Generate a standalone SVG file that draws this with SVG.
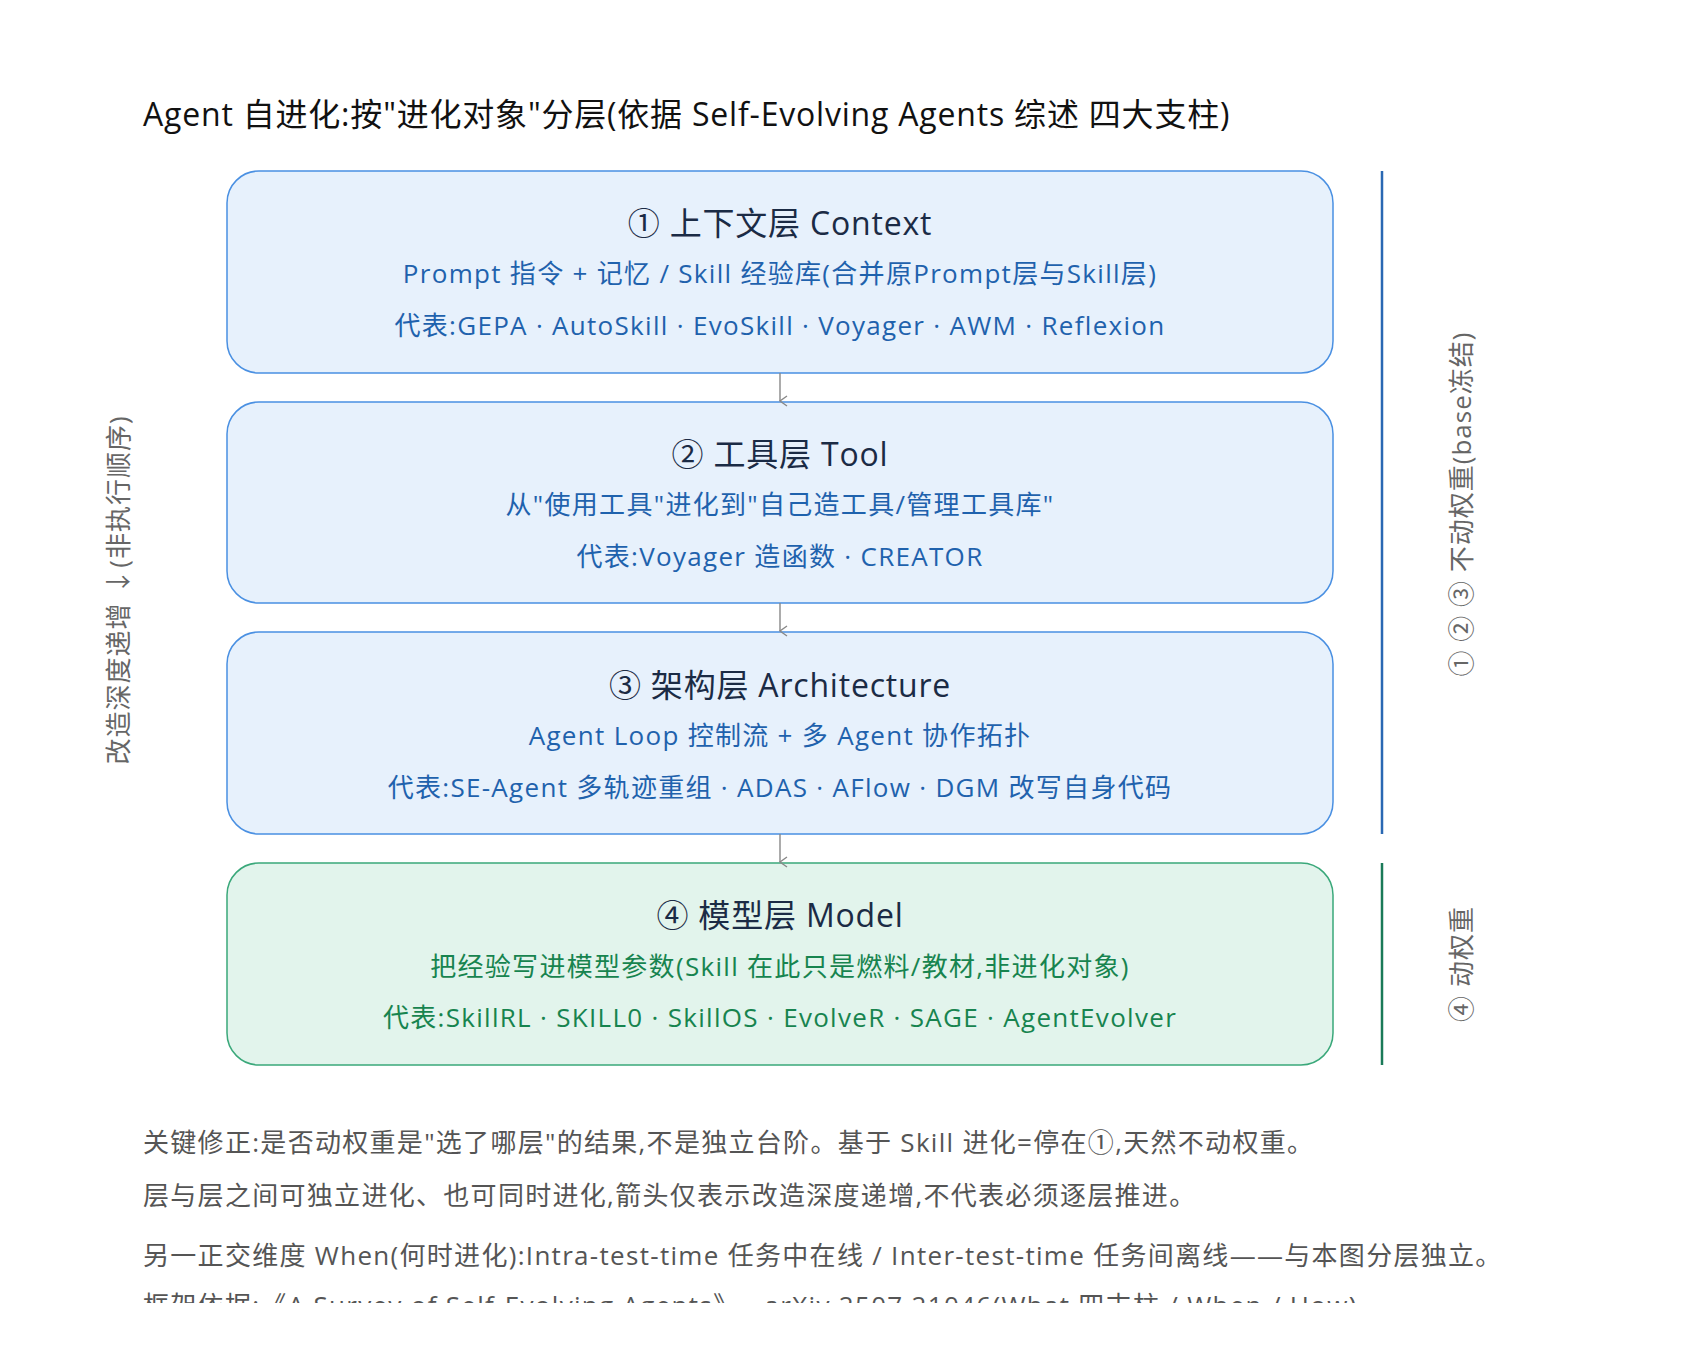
<svg xmlns="http://www.w3.org/2000/svg" width="1696" height="1356" viewBox="0 0 1696 1356">
<style>
text{font-family:"Open Sans","Noto Sans CJK SC",sans-serif}
.b{fill:#e7f1fc;stroke:#4a90e2;stroke-width:1.5}
.g{fill:#e2f4ec;stroke:#3aa87a;stroke-width:1.5}
.t{font-size:32px;fill:#1b2b45;text-anchor:middle;letter-spacing:0.8px}
.s{font-size:26px;fill:#1f62ad;text-anchor:middle;letter-spacing:1.3px}
.sg{font-size:26px;fill:#17844f;text-anchor:middle;letter-spacing:1.3px}
.n{font-size:26px;fill:#555;letter-spacing:1.3px}
.v{font-size:26px;fill:#666;text-anchor:middle;letter-spacing:1px}
</style>
<defs>
<marker id="a" markerWidth="14" markerHeight="14" refX="6" refY="11" orient="auto" markerUnits="userSpaceOnUse"><path d="M1,4 L6,11 L11,4" fill="none" stroke="#888" stroke-width="1.4"/></marker>
<clipPath id="c"><rect x="0" y="0" width="1696" height="1303"/></clipPath>
</defs>
<rect width="1696" height="1356" fill="#fff"/>
<text x="143" y="126" font-size="32" fill="#111" letter-spacing="0.8">Agent 自进化:按"进化对象"分层(依据 Self-Evolving Agents 综述 四大支柱)</text>
<g id="n1"><rect class="b" x="227" y="171" width="1106" height="202" rx="32"/>
<text class="t" x="780" y="235">① 上下文层 Context</text>
<text class="s" x="780" y="283">Prompt 指令 + 记忆 / Skill 经验库(合并原Prompt层与Skill层)</text>
<text class="s" x="780" y="335">代表:GEPA · AutoSkill · EvoSkill · Voyager · AWM · Reflexion</text></g>
<g id="n2"><rect class="b" x="227" y="402" width="1106" height="201" rx="32"/>
<text class="t" x="780" y="466">② 工具层 Tool</text>
<text class="s" x="780" y="514">从"使用工具"进化到"自己造工具/管理工具库"</text>
<text class="s" x="780" y="566">代表:Voyager 造函数 · CREATOR</text></g>
<g id="n3"><rect class="b" x="227" y="632" width="1106" height="202" rx="32"/>
<text class="t" x="780" y="697">③ 架构层 Architecture</text>
<text class="s" x="780" y="745">Agent Loop 控制流 + 多 Agent 协作拓扑</text>
<text class="s" x="780" y="797">代表:SE-Agent 多轨迹重组 · ADAS · AFlow · DGM 改写自身代码</text></g>
<g id="n4"><rect class="g" x="227" y="863" width="1106" height="202" rx="32"/>
<text class="t" x="780" y="927">④ 模型层 Model</text>
<text class="sg" x="780" y="976">把经验写进模型参数(Skill 在此只是燃料/教材,非进化对象)</text>
<text class="sg" x="780" y="1027">代表:SkillRL · SKILL0 · SkillOS · EvolveR · SAGE · AgentEvolver</text></g>
<g id="connectors" stroke="#888" stroke-width="1.4" fill="none">
<line x1="780" y1="373" x2="780" y2="401" marker-end="url(#a)"/>
<line x1="780" y1="603" x2="780" y2="631" marker-end="url(#a)"/>
<line x1="780" y1="834" x2="780" y2="862" marker-end="url(#a)"/>
</g>
<g id="side">
<line x1="1382" y1="171" x2="1382" y2="834" stroke="#2a68b3" stroke-width="2.5"/>
<line x1="1382" y1="863" x2="1382" y2="1065" stroke="#1a7a58" stroke-width="2.5"/>
<text class="v" transform="translate(1471,504) rotate(-90)">① ② ③ 不动权重(base冻结)</text>
<text class="v" transform="translate(1471,964) rotate(-90)">④ 动权重</text>
<text class="v" transform="translate(128,590) rotate(-90)">改造深度递增 ↓(非执行顺序)</text>
</g>
<g id="notes">
<text class="n" x="143" y="1152">关键修正:是否动权重是"选了哪层"的结果,不是独立台阶。基于 Skill 进化=停在①,天然不动权重。</text>
<text class="n" x="143" y="1205">层与层之间可独立进化、也可同时进化,箭头仅表示改造深度递增,不代表必须逐层推进。</text>
<text class="n" x="143" y="1265">另一正交维度 When(何时进化):Intra-test-time 任务中在线 / Inter-test-time 任务间离线——与本图分层独立。</text>
<text class="n" x="143" y="1315" clip-path="url(#c)">框架依据:《A Survey of Self-Evolving Agents》 · arXiv 2507.21046(What 四支柱 / When / How)</text>
</g>
</svg>
